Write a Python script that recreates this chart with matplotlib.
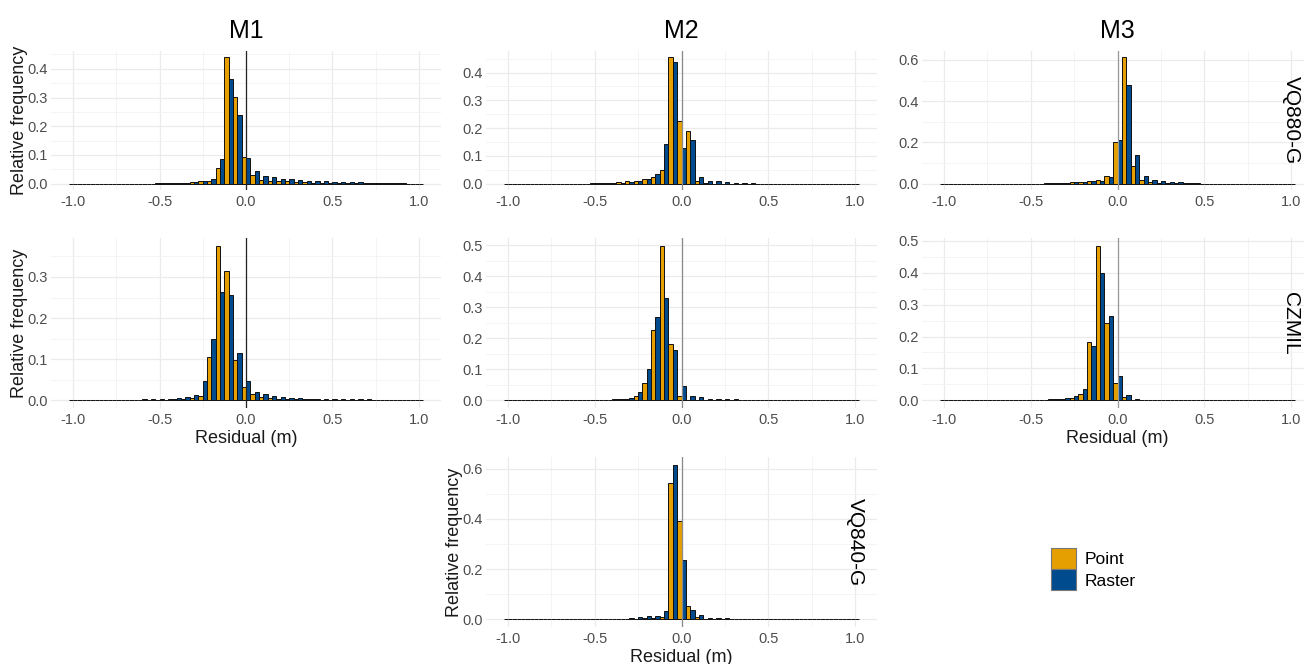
import numpy as np
import matplotlib
matplotlib.use("Agg")
import matplotlib.pyplot as plt
from matplotlib.patches import Patch
from matplotlib.ticker import MultipleLocator, FormatStrFormatter

plt.rcParams["font.family"] = ["Liberation Sans", "DejaVu Sans"]
plt.rcParams["axes.unicode_minus"] = False

# residual bins (centres, 0.05 m wide)
bin_centers = np.round(np.arange(-1.0, 1.0 + 1e-9, 0.05), 2)

# relative frequencies per bin, -1.00 .. 1.00
m1_vq880_point = ([0] * 10
                  + [0.001, 0.001, 0.001, 0.001, 0.005, 0.009, 0.010, 0.055, 0.440, 0.303]
                  + [0.093, 0.031, 0.014, 0.010, 0.009, 0.008, 0.006, 0.005, 0.004, 0.003]
                  + [0.003, 0.002, 0.002, 0.002, 0.001, 0.001, 0.001, 0.001, 0.001, 0, 0])
m1_vq880_raster = ([0] * 10
                   + [0.002, 0.002, 0.002, 0.002, 0.005, 0.010, 0.017, 0.085, 0.366, 0.238]
                   + [0.090, 0.045, 0.026, 0.023, 0.017, 0.015, 0.013, 0.011, 0.010, 0.008]
                   + [0.007, 0.006, 0.005, 0.005, 0.004, 0.003, 0.003, 0.003, 0.003, 0, 0])

m2_vq880_point = ([0] * 10
                  + [0.001, 0.001, 0.002, 0.006, 0.008, 0.010, 0.016, 0.024, 0.048, 0.455]
                  + [0.227, 0.188, 0.010, 0.001, 0, 0, 0, 0, 0, 0]
                  + [0] * 11)
m2_vq880_raster = ([0] * 10
                   + [0.002, 0.002, 0.003, 0.004, 0.006, 0.010, 0.016, 0.036, 0.142, 0.437]
                   + [0.129, 0.158, 0.025, 0.010, 0.008, 0.006, 0.004, 0.003, 0.002, 0]
                   + [0] * 11)

m3_vq880_point = ([0] * 10
                  + [0, 0, 0.001, 0.002, 0.003, 0.006, 0.008, 0.012, 0.018, 0.036]
                  + [0.204, 0.613, 0.088, 0.020, 0.010, 0.005, 0.004, 0.002, 0.001, 0.001]
                  + [0] * 11)
m3_vq880_raster = ([0] * 10
                   + [0, 0, 0.002, 0.002, 0.003, 0.006, 0.008, 0.012, 0.014, 0.033]
                   + [0.211, 0.477, 0.138, 0.036, 0.020, 0.013, 0.010, 0.008, 0.005, 0.003]
                   + [0] * 11)

m1_czmil_point = ([0, 0, 0, 0, 0, 0, 0, 0.0005, 0.0005, 0.0005]
                  + [0.001, 0.001, 0.002, 0.004, 0.006, 0.010, 0.106, 0.376, 0.315, 0.098]
                  + [0.032, 0.015, 0.008, 0.005, 0.004, 0.003, 0.002, 0.002, 0.002, 0.001]
                  + [0.001, 0.001, 0.001, 0.001, 0.001, 0, 0, 0, 0, 0, 0])
m1_czmil_raster = ([0, 0.001, 0, 0.001, 0.001, 0.001, 0.001, 0.001, 0.002, 0.002]
                   + [0.002, 0.003, 0.005, 0.009, 0.014, 0.046, 0.148, 0.264, 0.255, 0.114]
                   + [0.046, 0.020, 0.015, 0.010, 0.009, 0.006, 0.005, 0.004, 0.004, 0.003]
                   + [0.003, 0.002, 0.002, 0.002, 0.002, 0, 0, 0, 0, 0, 0])

m2_czmil_point = ([0] * 10
                  + [0.001, 0.001, 0.002, 0.003, 0.005, 0.014, 0.056, 0.228, 0.499, 0.183]
                  + [0.015, 0.001, 0.001, 0, 0, 0, 0, 0, 0, 0]
                  + [0] * 11)
m2_czmil_raster = ([0] * 10
                   + [0.001, 0.002, 0.003, 0.004, 0.008, 0.027, 0.102, 0.269, 0.330, 0.161]
                   + [0.047, 0.014, 0.010, 0.005, 0.004, 0.004, 0.003, 0.002, 0, 0]
                   + [0] * 11)

m3_czmil_point = ([0, 0, 0, 0, 0, 0, 0, 0, 0.001, 0.001]
                  + [0.001, 0.001, 0.002, 0.003, 0.004, 0.008, 0.021, 0.182, 0.485, 0.241]
                  + [0.053, 0.010, 0.002, 0, 0, 0, 0, 0, 0, 0]
                  + [0] * 11)
m3_czmil_raster = ([0, 0, 0, 0, 0, 0, 0.001, 0, 0.002, 0.002]
                   + [0.002, 0.002, 0.003, 0.004, 0.007, 0.014, 0.036, 0.169, 0.400, 0.263]
                   + [0.076, 0.016, 0.005, 0.002, 0, 0, 0, 0, 0, 0]
                   + [0] * 11)

m2_vq840_point = ([0] * 10
                  + [0, 0, 0, 0.001, 0.002, 0.003, 0.004, 0.005, 0.010, 0.543]
                  + [0.393, 0.053, 0.009, 0.002, 0.001, 0.001, 0, 0, 0, 0]
                  + [0] * 11)
m2_vq840_raster = ([0] * 10
                   + [0, 0, 0, 0.003, 0.006, 0.010, 0.012, 0.012, 0.032, 0.616]
                   + [0.237, 0.035, 0.017, 0.007, 0.005, 0.004, 0, 0, 0, 0]
                   + [0] * 11)

methods = ["M1", "M2", "M3"]
series_labels = ["Point", "Raster"]

# (row, col, point, raster, strip label)
panels = [
    (0, 0, m1_vq880_point, m1_vq880_raster, None),
    (0, 1, m2_vq880_point, m2_vq880_raster, None),
    (0, 2, m3_vq880_point, m3_vq880_raster, "VQ880-G"),
    (1, 0, m1_czmil_point, m1_czmil_raster, None),
    (1, 1, m2_czmil_point, m2_czmil_raster, None),
    (1, 2, m3_czmil_point, m3_czmil_raster, "CZMIL"),
    (2, 1, m2_vq840_point, m2_vq840_raster, "VQ840-G"),
]

ORANGE = "#E69F00"
BLUE = "#004B8D"
EDGE = "#111111"
W, H = 1304, 664

# panel boxes in pixels
col_px = [(51, 441), (486, 877), (922, 1313)]
row_px = [(51, 190), (238, 408), (457, 627)]
vline_colors = ["#222222", "#8a8a8a", "#9a9a9a"]

fig = plt.figure(figsize=(W / 100, H / 100), dpi=100)

for row, col, point, raster, strip in panels:
    left, right = col_px[col]
    top, bottom = row_px[row]
    ax = fig.add_axes([left / W, 1 - bottom / H, (right - left) / W, (bottom - top) / H])

    ax.bar(bin_centers - 0.0125, point, width=0.025, color=ORANGE,
           edgecolor=EDGE, linewidth=0.7, zorder=2)
    ax.bar(bin_centers + 0.0125, raster, width=0.025, color=BLUE,
           edgecolor=EDGE, linewidth=0.7, zorder=2)
    ax.axvline(0, color=vline_colors[col], linewidth=0.9, zorder=3)

    ymax = max(max(point), max(raster))
    ax.set_xlim(-1.1275, 1.1275)
    ax.set_ylim(-0.05 * ymax, 1.05 * ymax)

    step = 0.2 if ymax > 0.55 else 0.1
    ax.xaxis.set_major_locator(MultipleLocator(0.5))
    ax.xaxis.set_minor_locator(MultipleLocator(0.25))
    ax.yaxis.set_major_locator(MultipleLocator(step))
    ax.yaxis.set_minor_locator(MultipleLocator(step / 2))
    ax.xaxis.set_major_formatter(FormatStrFormatter("%.1f"))
    ax.yaxis.set_major_formatter(FormatStrFormatter("%.1f"))

    ax.set_axisbelow(True)
    ax.grid(which="major", color="#ebebeb", linewidth=0.9, zorder=0)
    ax.grid(which="minor", color="#f2f2f2", linewidth=0.6, zorder=0)
    for s in ax.spines.values():
        s.set_visible(False)
    ax.tick_params(which="both", length=0, labelsize=10.5, labelcolor="#4d4d4d")
    ax.tick_params(axis="x", pad=3.5)
    ax.tick_params(axis="y", pad=2)

    if col == 0 or row == 2:
        ax.set_ylabel("Relative frequency", fontsize=13, color="#1a1a1a")
        ax.yaxis.set_label_coords(-0.06, 0.5)
    if row == 2 or (row == 1 and col != 1):
        ax.set_xlabel("Residual (m)", fontsize=13, color="#1a1a1a")
        ax.xaxis.set_label_coords(0.5, -0.13)

    if strip:
        ax.text(right - 22, H - (top + bottom) / 2, strip, transform=None,
                rotation=-90, ha="center", va="center", fontsize=15, color="black")

for i, m in enumerate(methods):
    left, right = col_px[i]
    fig.text((left + right) / 2 / W, 1 - 31 / H, m, ha="center", va="center",
             fontsize=18, color="black")

handles = [Patch(facecolor=ORANGE, edgecolor="#777777", linewidth=0.8),
           Patch(facecolor=BLUE, edgecolor="#777777", linewidth=0.8)]
fig.legend(handles, series_labels, loc="upper left",
           bbox_to_anchor=(1051 / W, 1 - 548 / H), frameon=False, fontsize=12.5,
           handlelength=1.45, handleheight=1.5, handletextpad=0.5,
           labelspacing=0.0, borderpad=0, borderaxespad=0)

fig.savefig("out.png", dpi=100)
